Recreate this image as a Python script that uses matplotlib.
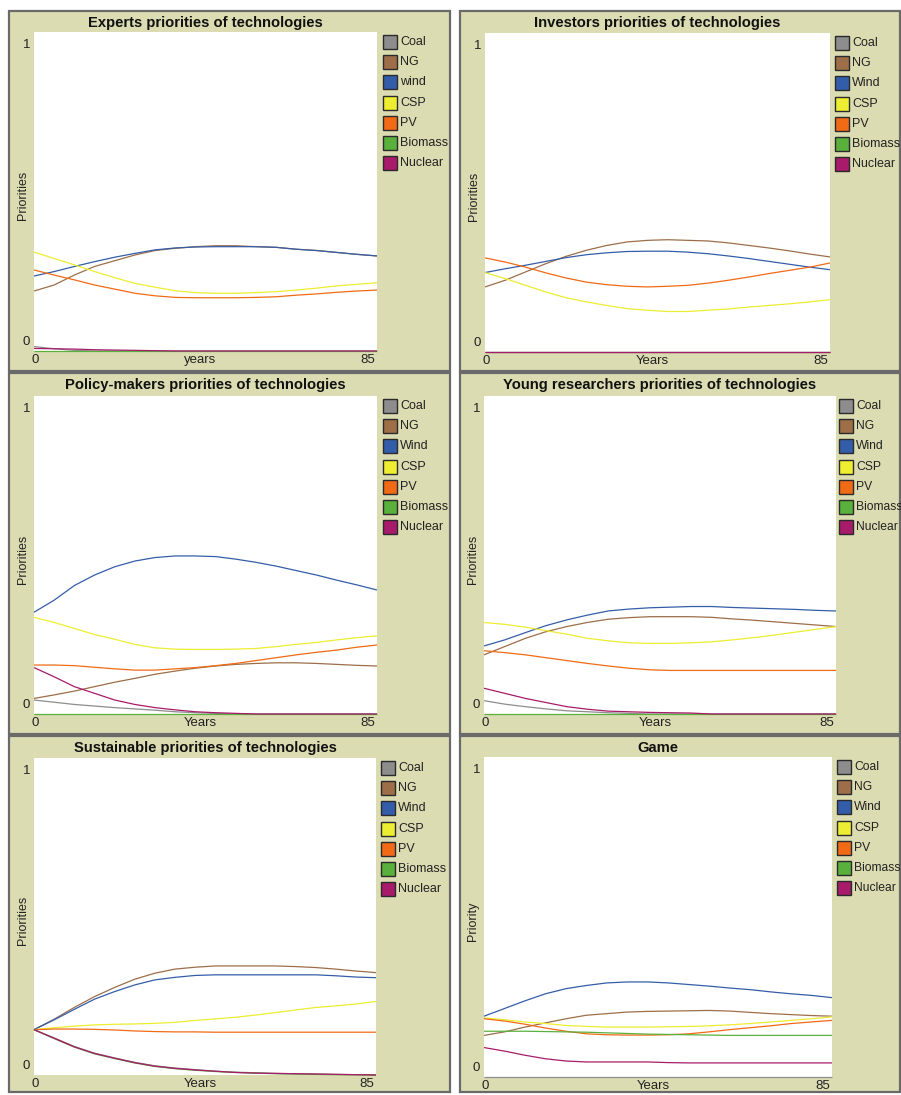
import matplotlib
matplotlib.use("Agg")
import matplotlib.pyplot as plt
from matplotlib.patches import Rectangle

plt.rcParams['font.family'] = ['Liberation Sans', 'DejaVu Sans']

W, H = 901, 1095

years = [0, 5, 10, 15, 20, 25, 30, 35, 40, 45, 50, 55, 60, 65, 70, 75, 80, 85]
zeros = [0.0] * 18

technologies = ["Coal", "NG", "Wind", "CSP", "PV", "Biomass", "Nuclear"]
tech_colors = ["#8d8d8d", "#9d6e48", "#345da9", "#eded31", "#f16a15", "#59b03c", "#a71b6a"]

# Experts
experts_coal = [0.014, 0.007, 0.002, 0, 0, 0, 0, 0, 0, 0, 0, 0, 0, 0, 0, 0, 0, 0]
experts_ng = [0.188, 0.207, 0.238, 0.265, 0.283, 0.301, 0.315, 0.322, 0.327, 0.330, 0.330, 0.327, 0.325, 0.319, 0.315, 0.309, 0.303, 0.298]
experts_wind = [0.235, 0.249, 0.265, 0.280, 0.294, 0.306, 0.317, 0.323, 0.326, 0.327, 0.327, 0.327, 0.325, 0.319, 0.315, 0.309, 0.303, 0.298]
experts_csp = [0.310, 0.290, 0.270, 0.249, 0.230, 0.212, 0.200, 0.189, 0.183, 0.181, 0.181, 0.183, 0.186, 0.191, 0.197, 0.204, 0.209, 0.214]
experts_pv = [0.254, 0.238, 0.223, 0.207, 0.194, 0.181, 0.173, 0.168, 0.167, 0.167, 0.167, 0.168, 0.170, 0.175, 0.179, 0.184, 0.188, 0.191]
experts_biomass = zeros
experts_nuclear = [0.008, 0.007, 0.006, 0.004, 0.003, 0.002, 0.001, 0, 0, 0, 0, 0, 0, 0, 0, 0, 0, 0]

# Investors
investors_coal = zeros
investors_ng = [0.204, 0.225, 0.251, 0.277, 0.300, 0.319, 0.334, 0.345, 0.350, 0.352, 0.350, 0.348, 0.342, 0.334, 0.326, 0.317, 0.307, 0.298]
investors_wind = [0.249, 0.261, 0.272, 0.284, 0.296, 0.305, 0.311, 0.315, 0.316, 0.316, 0.313, 0.308, 0.301, 0.293, 0.284, 0.275, 0.266, 0.258]
investors_csp = [0.249, 0.230, 0.209, 0.188, 0.170, 0.157, 0.146, 0.136, 0.131, 0.127, 0.127, 0.131, 0.135, 0.141, 0.146, 0.151, 0.157, 0.164]
investors_pv = [0.295, 0.282, 0.266, 0.248, 0.232, 0.219, 0.211, 0.206, 0.204, 0.206, 0.209, 0.216, 0.225, 0.235, 0.246, 0.256, 0.266, 0.279]
investors_biomass = zeros
investors_nuclear = zeros

# Policy-makers
policy_coal = [0.044, 0.037, 0.030, 0.025, 0.020, 0.016, 0.012, 0.007, 0.004, 0.002, 0, 0, 0, 0, 0, 0, 0, 0]
policy_ng = [0.049, 0.060, 0.072, 0.086, 0.100, 0.112, 0.125, 0.135, 0.144, 0.151, 0.156, 0.159, 0.161, 0.161, 0.159, 0.156, 0.153, 0.151]
policy_wind = [0.320, 0.358, 0.404, 0.437, 0.463, 0.481, 0.492, 0.497, 0.497, 0.495, 0.487, 0.477, 0.465, 0.451, 0.437, 0.421, 0.406, 0.390]
policy_csp = [0.304, 0.288, 0.269, 0.250, 0.235, 0.219, 0.208, 0.204, 0.203, 0.203, 0.204, 0.206, 0.212, 0.219, 0.225, 0.233, 0.240, 0.246]
policy_pv = [0.154, 0.154, 0.152, 0.147, 0.142, 0.138, 0.138, 0.142, 0.146, 0.152, 0.159, 0.168, 0.177, 0.186, 0.194, 0.201, 0.210, 0.217]
policy_biomass = zeros
policy_nuclear = [0.146, 0.117, 0.086, 0.065, 0.044, 0.030, 0.020, 0.013, 0.007, 0.004, 0.002, 0, 0, 0, 0, 0, 0, 0]

# Young researchers
young_coal = [0.042, 0.031, 0.023, 0.016, 0.010, 0.007, 0.004, 0.002, 0, 0, 0, 0, 0, 0, 0, 0, 0, 0]
young_ng = [0.186, 0.212, 0.238, 0.259, 0.275, 0.288, 0.298, 0.303, 0.306, 0.306, 0.306, 0.304, 0.299, 0.295, 0.290, 0.285, 0.280, 0.275]
young_wind = [0.214, 0.233, 0.256, 0.278, 0.296, 0.311, 0.324, 0.330, 0.334, 0.336, 0.338, 0.338, 0.335, 0.333, 0.331, 0.329, 0.326, 0.324]
young_csp = [0.288, 0.282, 0.273, 0.262, 0.251, 0.238, 0.230, 0.224, 0.222, 0.222, 0.224, 0.227, 0.233, 0.240, 0.248, 0.257, 0.266, 0.275]
young_pv = [0.199, 0.193, 0.186, 0.177, 0.168, 0.159, 0.151, 0.144, 0.139, 0.137, 0.137, 0.137, 0.137, 0.137, 0.137, 0.137, 0.137, 0.137]
young_biomass = zeros
young_nuclear = [0.081, 0.065, 0.049, 0.036, 0.023, 0.015, 0.009, 0.007, 0.005, 0.004, 0.003, 0, 0, 0, 0, 0, 0, 0]

# Sustainable
sustainable_coal = [0.143, 0.117, 0.090, 0.069, 0.054, 0.040, 0.029, 0.022, 0.017, 0.012, 0.009, 0.007, 0.005, 0.004, 0.003, 0.002, 0.001, 0.0]
sustainable_ng = [0.143, 0.176, 0.213, 0.247, 0.276, 0.302, 0.321, 0.334, 0.340, 0.344, 0.344, 0.344, 0.344, 0.342, 0.339, 0.334, 0.328, 0.323]
sustainable_wind = [0.143, 0.174, 0.207, 0.239, 0.263, 0.284, 0.300, 0.308, 0.314, 0.316, 0.316, 0.316, 0.316, 0.316, 0.316, 0.313, 0.309, 0.307]
sustainable_csp = [0.143, 0.149, 0.154, 0.158, 0.160, 0.161, 0.163, 0.166, 0.172, 0.177, 0.182, 0.189, 0.197, 0.205, 0.213, 0.218, 0.224, 0.232]
sustainable_pv = [0.143, 0.145, 0.145, 0.144, 0.142, 0.139, 0.137, 0.136, 0.136, 0.135, 0.135, 0.135, 0.135, 0.135, 0.135, 0.135, 0.135, 0.135]
sustainable_biomass = [0.143, 0.115, 0.088, 0.067, 0.052, 0.038, 0.027, 0.020, 0.015, 0.011, 0.008, 0.006, 0.004, 0.003, 0.002, 0.001, 0.001, 0.0]
sustainable_nuclear = [0.143, 0.116, 0.089, 0.068, 0.053, 0.039, 0.028, 0.021, 0.016, 0.012, 0.008, 0.006, 0.005, 0.004, 0.003, 0.002, 0.001, 0.0]

# Game
game_coal = zeros
game_ng = [0.130, 0.141, 0.156, 0.169, 0.182, 0.193, 0.198, 0.203, 0.205, 0.206, 0.207, 0.208, 0.206, 0.202, 0.198, 0.195, 0.192, 0.190]
game_wind = [0.190, 0.214, 0.238, 0.260, 0.276, 0.286, 0.294, 0.297, 0.297, 0.294, 0.289, 0.284, 0.278, 0.273, 0.266, 0.260, 0.255, 0.248]
game_csp = [0.185, 0.179, 0.172, 0.167, 0.161, 0.158, 0.156, 0.156, 0.156, 0.157, 0.158, 0.160, 0.163, 0.167, 0.172, 0.177, 0.182, 0.188]
game_pv = [0.182, 0.175, 0.165, 0.153, 0.143, 0.135, 0.132, 0.131, 0.131, 0.132, 0.135, 0.141, 0.148, 0.154, 0.160, 0.167, 0.172, 0.177]
game_biomass = [0.143, 0.143, 0.143, 0.142, 0.141, 0.140, 0.138, 0.136, 0.134, 0.133, 0.132, 0.131, 0.130, 0.130, 0.130, 0.130, 0.130, 0.130]
game_nuclear = [0.092, 0.081, 0.068, 0.057, 0.050, 0.047, 0.047, 0.047, 0.047, 0.045, 0.044, 0.044, 0.044, 0.044, 0.044, 0.044, 0.044, 0.044]

panel_titles = ["Experts priorities of technologies", "Investors priorities of technologies",
                "Policy-makers priorities of technologies", "Young researchers priorities of technologies",
                "Sustainable priorities of technologies", "Game"]
x_labels = ["years", "Years", "Years", "Years", "Years", "Years"]
y_labels = ["Priorities", "Priorities", "Priorities", "Priorities", "Priorities", "Priority"]
legend_names = [["Coal", "NG", "wind", "CSP", "PV", "Biomass", "Nuclear"]] + [technologies] * 5

panel_series = [
    [experts_coal, experts_ng, experts_wind, experts_csp, experts_pv, experts_biomass, experts_nuclear],
    [investors_coal, investors_ng, investors_wind, investors_csp, investors_pv, investors_biomass, investors_nuclear],
    [policy_coal, policy_ng, policy_wind, policy_csp, policy_pv, policy_biomass, policy_nuclear],
    [young_coal, young_ng, young_wind, young_csp, young_pv, young_biomass, young_nuclear],
    [sustainable_coal, sustainable_ng, sustainable_wind, sustainable_csp, sustainable_pv, sustainable_biomass, sustainable_nuclear],
    [game_coal, game_ng, game_wind, game_csp, game_pv, game_biomass, game_nuclear],
]

# layout in pixels: frame (x0, y0, x1, y1), plot area (x0, y0, x1, y1), legend square left x
frames = [(9, 11, 450, 371), (460, 11, 900, 371),
          (9, 373, 450, 734), (460, 373, 900, 734),
          (9, 736, 450, 1092), (460, 736, 900, 1092)]
plot_boxes = [(34, 32, 377, 351), (485, 33, 830, 352),
              (34, 396, 377, 714), (484, 396, 836, 714),
              (34, 758, 376, 1075), (484, 757, 832, 1077)]
legend_x = [383, 835, 383, 839, 381, 837]

BG = "#dcdcb2"

fig = plt.figure(figsize=(W / 100, H / 100), dpi=100)
fig.patch.set_facecolor("white")


def fx(x):
    return x / W


def fy(y):
    return 1 - y / H


for i in range(6):
    x0, y0, x1, y1 = frames[i]
    fig.patches.append(Rectangle((fx(x0), fy(y1)), fx(x1) - fx(x0), fy(y0) - fy(y1),
                                 transform=fig.transFigure, facecolor=BG,
                                 edgecolor="#6a6a6a", linewidth=1.6, zorder=-5))

    px0, py0, px1, py1 = plot_boxes[i]
    ax = fig.add_axes([fx(px0), fy(py1), fx(px1) - fx(px0), fy(py0) - fy(py1)])
    ax.set_zorder(1)
    ax.set_facecolor("white")
    for s in ax.spines.values():
        s.set_visible(False)
    ax.set_xticks([])
    ax.set_yticks([])
    ax.set_xlim(0, 85)
    ax.set_ylim(0, 1)
    for vals, col in zip(panel_series[i], tech_colors):
        ax.plot(years, vals, color=col, linewidth=0.9, clip_on=False, solid_capstyle="butt")

    # title
    fig.text(fx((px0 + px1) / 2), fy(y0 + 12), panel_titles[i], ha="center", va="center",
             fontsize=10.6, fontweight="bold", color="#111111")
    # axis value labels
    fig.text(fx(px0 - 4), fy(py0 + 13), "1", ha="right", va="center", fontsize=9.5, color="#222222")
    fig.text(fx(px0 - 4), fy(py1 - 9), "0", ha="right", va="center", fontsize=9.5, color="#222222")
    fig.text(fx(px0 + 1), fy(py1 + 9), "0", ha="center", va="center", fontsize=9.5, color="#222222")
    fig.text(fx(px1 - 2), fy(py1 + 9), "85", ha="right", va="center", fontsize=9.5, color="#222222")
    fig.text(fx((px0 + px1) / 2 - 5), fy(py1 + 9), x_labels[i], ha="center", va="center",
             fontsize=9.5, color="#222222")
    fig.text(fx(px0 - 11), fy((py0 + py1) / 2 + 4), y_labels[i], ha="center", va="center",
             rotation=90, fontsize=9, color="#222222")

    # legend
    lx = legend_x[i]
    for k, (name, col) in enumerate(zip(legend_names[i], tech_colors)):
        cy = py0 + 10 + k * 20.2
        fig.patches.append(Rectangle((fx(lx), fy(cy + 7)), fx(14), 14 / H,
                                     transform=fig.transFigure, facecolor=col,
                                     edgecolor="#2a2a2a", linewidth=1.0, zorder=2))
        fig.text(fx(lx + 17), fy(cy), name, ha="left", va="center",
                 fontsize=8.7 if lx > 836 else 9, color="#222222")

fig.savefig("out.png", dpi=100, facecolor="white")
